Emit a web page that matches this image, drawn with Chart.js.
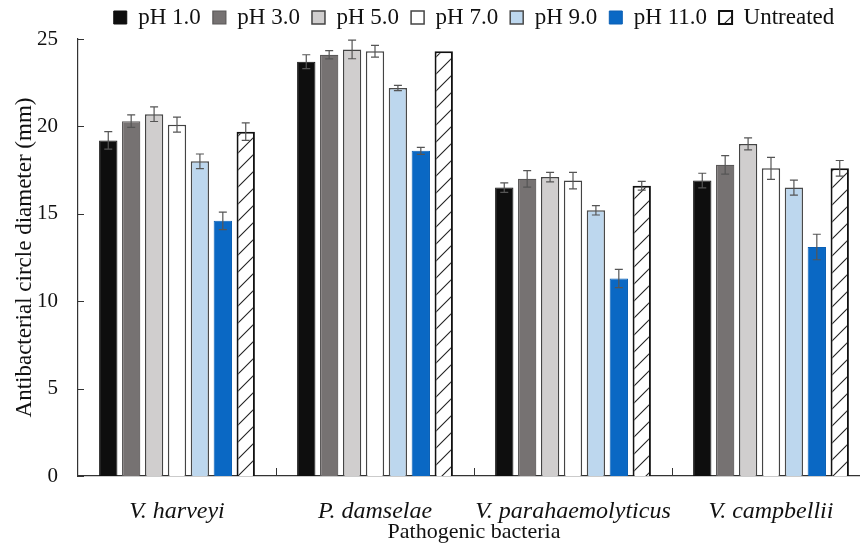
<!DOCTYPE html>
<html>
<head>
<meta charset="utf-8">
<script src="https://cdn.jsdelivr.net/npm/chart.js@4.4.1/dist/chart.umd.min.js"></script>
<style>
  html, body { margin: 0; padding: 0; background: #fff; overflow: hidden; }
  #wrap { position: absolute; left: 0; top: 0; width: 872px; height: 545px; }
</style>
</head>
<body>
<div id="wrap"><canvas id="c" width="872" height="545"></canvas></div>
<script>
// Bacteria tested
const categories = ['V. harveyi', 'P. damselae', 'V. parahaemolyticus', 'V. campbellii'];

// Inhibition zone diameter (mm) after each pH treatment
const ph1  = [19.2, 23.7, 16.5, 16.9];
const ph3  = [20.3, 24.1, 17.0, 17.8];
const ph5  = [20.7, 24.4, 17.1, 19.0];
const ph7  = [20.1, 24.3, 16.9, 17.6];
const ph9  = [18.0, 22.2, 15.2, 16.5];
const ph11 = [14.6, 18.6, 11.3, 13.1];
const untreated = [19.7, 24.3, 16.6, 17.6];

// Standard deviations
const ph1Err  = [0.50, 0.40, 0.27, 0.42];
const ph3Err  = [0.36, 0.24, 0.47, 0.53];
const ph5Err  = [0.42, 0.53, 0.27, 0.34];
const ph7Err  = [0.43, 0.34, 0.47, 0.63];
const ph9Err  = [0.42, 0.15, 0.27, 0.43];
const ph11Err = [0.50, 0.20, 0.52, 0.73];
const untreatedErr = [0.50, 0.00, 0.25, 0.45];

// Y-axis ticks
const yTicks = [0, 5, 10, 15, 20, 25];

const SERIF = '"Liberation Serif", "Times New Roman", serif';

const canvas = document.getElementById('c');
const ctx = canvas.getContext('2d');

// diagonal hatch for the untreated control
function makeHatch() {
  const s = 17;
  const p = document.createElement('canvas');
  p.width = s; p.height = s;
  const g = p.getContext('2d');
  g.fillStyle = '#fff';
  g.fillRect(0, 0, s, s);
  g.strokeStyle = '#222';
  g.lineWidth = 1.1;
  g.beginPath();
  g.moveTo(-2, s + 2); g.lineTo(s + 2, -2);
  g.moveTo(-2, 2); g.lineTo(2, -2);
  g.moveTo(s - 2, s + 2); g.lineTo(s + 2, s - 2);
  g.stroke();
  return ctx.createPattern(p, 'repeat');
}

const datasets = [
  { label: 'pH 1.0', data: ph1, err: ph1Err, backgroundColor: '#0e0e0e', borderColor: '#0e0e0e', borderWidth: 1 },
  { label: 'pH 3.0', data: ph3, err: ph3Err, backgroundColor: '#767272', borderColor: '#5a5858', borderWidth: 1.2 },
  { label: 'pH 5.0', data: ph5, err: ph5Err, backgroundColor: '#d0cece', borderColor: '#444', borderWidth: 1.5 },
  { label: 'pH 7.0', data: ph7, err: ph7Err, backgroundColor: '#ffffff', borderColor: '#444', borderWidth: 1.5 },
  { label: 'pH 9.0', data: ph9, err: ph9Err, backgroundColor: '#bdd7ee', borderColor: '#4a4a4a', borderWidth: 1.5 },
  { label: 'pH 11.0', data: ph11, err: ph11Err, backgroundColor: '#0a68c4', borderColor: '#0a5fb4', borderWidth: 1 },
  { label: 'Untreated', data: untreated, err: untreatedErr, backgroundColor: makeHatch(), borderColor: '#111', borderWidth: 2 }
];

// error bars with caps
const errorBars = {
  id: 'errorBars',
  afterDatasetsDraw(chart) {
    const y = chart.scales.y;
    const c = chart.ctx;
    c.save();
    c.strokeStyle = '#555';
    c.lineWidth = 1.2;
    chart.data.datasets.forEach((ds, i) => {
      const meta = chart.getDatasetMeta(i);
      meta.data.forEach((bar, j) => {
        const e = ds.err[j];
        if (!e) return;
        const top = y.getPixelForValue(ds.data[j] + e);
        const bot = y.getPixelForValue(ds.data[j] - e);
        const x = bar.x;
        c.beginPath();
        c.moveTo(x, top); c.lineTo(x, bot);
        c.moveTo(x - 4, top); c.lineTo(x + 4, top);
        c.moveTo(x - 4, bot); c.lineTo(x + 4, bot);
        c.stroke();
      });
    });
    c.restore();
  }
};

// inward tick marks on both axes
const innerTicks = {
  id: 'innerTicks',
  afterDraw(chart) {
    const { x, y } = chart.scales;
    const a = chart.chartArea;
    const c = chart.ctx;
    c.save();
    c.strokeStyle = '#333';
    c.lineWidth = 1;
    c.beginPath();
    yTicks.forEach(v => {
      const py = Math.round(y.getPixelForValue(v)) + 0.5;
      c.moveTo(a.left, py); c.lineTo(a.left + 6, py);
    });
    for (let i = 1; i < categories.length; i++) {
      const px = Math.round((x.getPixelForTick(i - 1) + x.getPixelForTick(i)) / 2) + 0.5;
      c.moveTo(px, a.bottom); c.lineTo(px, a.bottom - 8);
    }
    c.stroke();
    c.restore();
  }
};

new Chart(ctx, {
  type: 'bar',
  data: { labels: categories, datasets },
  options: {
    responsive: false,
    animation: false,
    layout: { padding: { left: 0, right: 2, top: -6, bottom: 0 } },
    datasets: { bar: { categoryPercentage: 0.81, barPercentage: 0.8 } },
    plugins: {
      legend: {
        position: 'top',
        fullSize: false,
        labels: {
          font: { family: SERIF, size: 23 },
          color: '#111',
          boxWidth: 13,
          boxHeight: 13,
          padding: 12
        }
      },
      tooltip: { enabled: false }
    },
    scales: {
      x: {
        grid: { display: false, drawTicks: false },
        border: { display: true, color: '#333', width: 1.2 },
        ticks: { font: { family: SERIF, size: 24, style: 'italic' }, color: '#111', padding: 21, maxRotation: 0, minRotation: 0, autoSkip: false },
        title: { display: true, text: 'Pathogenic bacteria', font: { family: SERIF, size: 22 }, color: '#111', padding: { top: 0, bottom: 0 } },
        afterFit(s) { s.height = 69; }
      },
      y: {
        min: 0, max: 25,
        afterBuildTicks(s) { s.ticks = yTicks.map(v => ({ value: v })); },
        grid: { display: false, drawTicks: false },
        border: { display: true, color: '#333', width: 1.2 },
        ticks: { font: { family: SERIF, size: 21 }, color: '#111', padding: 20 },
        title: { display: true, text: 'Antibacterial circle diameter (mm)', font: { family: SERIF, size: 23 }, color: '#111', padding: { top: 11, bottom: 0 } },
        afterFit(s) { s.width = 78; }
      }
    }
  },
  plugins: [errorBars, innerTicks]
});
</script>
</body>
</html>
